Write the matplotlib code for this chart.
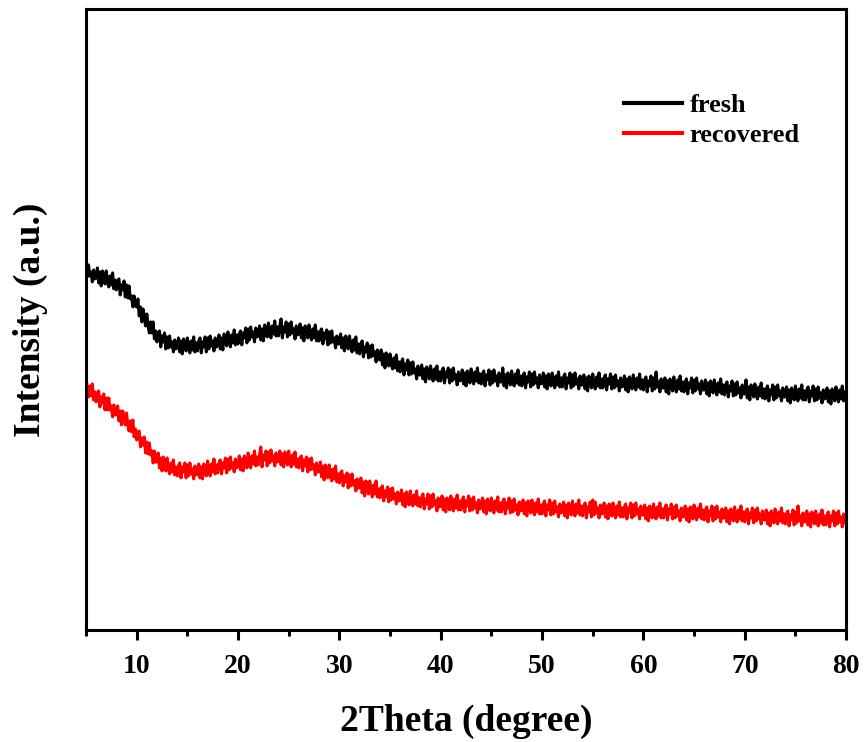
import numpy as np
import matplotlib
matplotlib.use("Agg")
import matplotlib.pyplot as plt

plt.rcParams['font.family'] = ['Liberation Serif', 'DejaVu Serif']
plt.rcParams['font.weight'] = 'bold'

# 2theta grid (0.125 degree step, 5 to 80)
two_theta = np.arange(5, 80.001, 0.125)

# intensity (arbitrary units), one row of 8 per degree
fresh = [
    364, 353, 365, 354, 358, 348, 360, 351,
    352, 362, 347, 358, 344, 359, 353, 346,
    359, 348, 343, 354, 345, 357, 341, 350,
    340, 349, 351, 335, 345, 340, 349, 333,
    345, 332, 344, 331, 334, 323, 334, 324,
    323, 331, 314, 323, 308, 321, 313, 304,
    316, 304, 297, 308, 297, 308, 291, 299,
    288, 297, 299, 283, 294, 288, 297, 281,
    293, 282, 294, 283, 288, 278, 290, 281,
    282, 292, 278, 289, 276, 291, 286, 279,
    292, 282, 277, 289, 280, 293, 278, 287,
    279, 289, 292, 277, 288, 283, 293, 278,
    292, 281, 294, 284, 289, 279, 292, 283,
    285, 295, 281, 292, 280, 296, 291, 284,
    298, 288, 283, 295, 287, 300, 285, 295,
    286, 296, 299, 285, 297, 292, 302, 287,
    301, 290, 303, 293, 298, 288, 302, 293,
    294, 304, 290, 301, 289, 305, 300, 293,
    307, 297, 292, 304, 296, 309, 294, 303,
    294, 304, 311, 292, 303, 298, 308, 293,
    306, 295, 308, 297, 301, 291, 304, 295,
    296, 306, 292, 302, 289, 304, 299, 292,
    305, 295, 290, 301, 292, 305, 289, 298,
    289, 299, 301, 286, 297, 291, 300, 285,
    298, 287, 299, 288, 292, 282, 294, 286,
    286, 296, 282, 292, 279, 294, 288, 281,
    294, 284, 278, 290, 280, 293, 277, 286,
    276, 286, 289, 273, 283, 278, 287, 272,
    284, 273, 285, 274, 278, 268, 280, 271,
    270, 280, 265, 276, 262, 277, 271, 264,
    276, 266, 261, 272, 262, 275, 259, 268,
    258, 268, 271, 255, 266, 260, 270, 255,
    267, 256, 268, 257, 261, 251, 264, 255,
    255, 265, 251, 261, 248, 263, 258, 251,
    264, 254, 249, 261, 251, 264, 249, 258,
    249, 259, 262, 247, 258, 253, 262, 247,
    260, 249, 262, 251, 255, 245, 258, 249,
    250, 260, 246, 257, 244, 259, 254, 247,
    261, 251, 246, 258, 249, 262, 247, 256,
    246, 256, 259, 244, 255, 250, 260, 245,
    258, 247, 260, 249, 254, 244, 257, 248,
    248, 262, 244, 255, 242, 257, 252, 245,
    259, 249, 244, 256, 247, 260, 245, 254,
    244, 254, 257, 242, 253, 248, 258, 243,
    256, 245, 258, 247, 252, 242, 255, 246,
    247, 257, 243, 254, 241, 256, 251, 244,
    257, 247, 242, 254, 245, 258, 243, 252,
    243, 253, 256, 241, 252, 247, 257, 242,
    255, 244, 257, 246, 251, 241, 254, 245,
    245, 255, 241, 252, 239, 254, 249, 242,
    256, 246, 241, 253, 244, 257, 242, 251,
    242, 252, 255, 240, 251, 246, 256, 241,
    253, 242, 255, 244, 249, 239, 252, 243,
    244, 254, 240, 251, 238, 253, 248, 241,
    255, 245, 240, 252, 243, 256, 241, 250,
    240, 250, 253, 238, 249, 244, 254, 239,
    252, 241, 258, 243, 248, 238, 251, 242,
    242, 252, 238, 249, 236, 251, 246, 239,
    253, 243, 238, 250, 241, 254, 239, 248,
    238, 248, 251, 236, 247, 242, 252, 237,
    250, 239, 252, 241, 246, 236, 249, 240,
    240, 250, 236, 247, 234, 249, 244, 237,
    250, 240, 235, 247, 238, 251, 236, 245,
    235, 245, 248, 233, 244, 239, 249, 234,
    246, 235, 248, 237, 242, 232, 245, 236,
    236, 250, 232, 243, 230, 245, 240, 233,
    246, 236, 231, 243, 234, 247, 232, 241,
    231, 241, 244, 229, 240, 235, 245, 230,
    243, 232, 245, 234, 239, 229, 242, 233,
    233, 243, 229, 240, 227, 242, 237, 230,
    244, 234, 229, 241, 232, 245, 230, 239,
    230, 240, 243, 228, 239, 234, 244, 229,
    241, 230, 243, 232, 237, 227, 240, 231,
    232, 242, 228, 239, 226, 241, 236, 229,
    243, 233, 228, 240, 231, 244, 229, 238,
    235,
]

recovered = [
    256, 239, 233, 244, 234, 246, 230, 238,
    228, 237, 239, 223, 233, 227, 236, 220,
    232, 220, 232, 220, 224, 213, 225, 215,
    215, 224, 209, 219, 205, 219, 213, 205,
    217, 205, 199, 209, 198, 210, 193, 201,
    190, 198, 199, 183, 192, 185, 193, 177,
    188, 176, 187, 175, 179, 167, 179, 168,
    168, 177, 162, 172, 159, 173, 167, 159,
    172, 161, 156, 167, 158, 170, 155, 163,
    154, 164, 167, 152, 163, 158, 167, 152,
    165, 154, 167, 156, 161, 151, 164, 155,
    156, 166, 152, 163, 151, 166, 161, 154,
    169, 159, 154, 166, 158, 171, 156, 165,
    157, 167, 170, 156, 167, 162, 172, 157,
    171, 160, 173, 162, 167, 158, 171, 162,
    164, 174, 160, 171, 159, 174, 169, 162,
    177, 167, 162, 174, 166, 179, 164, 173,
    165, 175, 183, 163, 175, 170, 179, 164,
    178, 167, 180, 169, 174, 164, 177, 168,
    169, 179, 165, 176, 163, 178, 172, 165,
    179, 169, 163, 175, 166, 178, 163, 171,
    162, 172, 174, 159, 170, 164, 173, 158,
    171, 160, 172, 161, 165, 155, 167, 158,
    158, 168, 153, 164, 150, 165, 159, 152,
    165, 155, 149, 161, 151, 164, 148, 156,
    147, 157, 159, 144, 154, 148, 157, 142,
    155, 144, 156, 145, 149, 139, 151, 142,
    142, 152, 137, 148, 134, 149, 143, 136,
    149, 139, 133, 145, 136, 149, 133, 141,
    132, 142, 144, 129, 139, 133, 143, 128,
    141, 130, 142, 131, 136, 126, 138, 129,
    130, 140, 125, 136, 123, 138, 132, 125,
    139, 129, 124, 135, 126, 139, 124, 132,
    123, 133, 136, 121, 131, 126, 136, 121,
    134, 123, 136, 125, 129, 119, 132, 123,
    124, 134, 120, 131, 118, 132, 127, 120,
    134, 124, 119, 131, 122, 135, 120, 129,
    120, 130, 133, 118, 129, 124, 134, 119,
    131, 120, 133, 122, 127, 117, 130, 121,
    122, 132, 118, 129, 116, 131, 126, 119,
    132, 122, 117, 129, 120, 133, 118, 127,
    118, 128, 131, 116, 127, 122, 132, 117,
    129, 118, 131, 120, 125, 115, 128, 119,
    120, 130, 116, 127, 114, 129, 124, 117,
    130, 120, 115, 127, 118, 131, 116, 125,
    116, 126, 129, 114, 125, 120, 130, 115,
    127, 116, 129, 118, 123, 113, 126, 117,
    118, 128, 114, 125, 112, 127, 122, 115,
    129, 119, 114, 126, 117, 130, 115, 124,
    114, 124, 127, 112, 123, 118, 128, 113,
    130, 115, 128, 117, 122, 112, 125, 116,
    117, 127, 113, 124, 111, 126, 121, 114,
    127, 117, 112, 124, 115, 128, 113, 122,
    113, 123, 126, 111, 122, 117, 127, 112,
    125, 114, 127, 116, 121, 111, 124, 115,
    115, 125, 111, 122, 109, 124, 119, 112,
    126, 116, 111, 123, 114, 127, 112, 121,
    112, 122, 125, 110, 121, 116, 126, 111,
    123, 112, 125, 114, 119, 109, 122, 113,
    114, 124, 110, 121, 108, 123, 118, 111,
    125, 115, 110, 122, 113, 126, 111, 120,
    110, 120, 123, 108, 119, 114, 124, 109,
    122, 111, 124, 113, 118, 108, 121, 112,
    112, 122, 108, 119, 106, 121, 116, 109,
    123, 113, 108, 120, 111, 124, 109, 118,
    108, 118, 121, 106, 117, 112, 122, 107,
    120, 109, 122, 111, 116, 106, 119, 110,
    110, 120, 106, 117, 104, 119, 114, 107,
    121, 111, 106, 118, 109, 122, 107, 116,
    106, 116, 119, 104, 115, 110, 120, 105,
    118, 107, 124, 109, 114, 104, 117, 108,
    109, 119, 105, 116, 103, 118, 113, 106,
    119, 109, 104, 116, 107, 120, 105, 114,
    105, 115, 118, 103, 114, 109, 119, 104,
    117, 106, 119, 108, 113, 103, 116, 107,
    110,
]

fig = plt.figure(figsize=(8.66, 7.42), dpi=100)
ax = fig.add_axes([0.0993, 0.151, 0.8777, 0.837])

ax.plot(two_theta, fresh, color='black', lw=2.2, label='fresh')
ax.plot(two_theta, recovered, color='red', lw=2.2, label='recovered')

ax.set_xlim(5, 80)
ax.set_ylim(0, 621)
ax.set_yticks([])
ax.set_xticks([10, 20, 30, 40, 50, 60, 70, 80])
ax.set_xticks([5, 15, 25, 35, 45, 55, 65, 75], minor=True)
ax.tick_params(axis='x', which='major', direction='out', length=7, width=2.2,
               labelsize=20, pad=10)
ax.tick_params(axis='x', which='minor', direction='out', length=4, width=2.2)
for s in ax.spines.values():
    s.set_linewidth(2.2)

ax.set_xlabel('2Theta (degree)', fontsize=27, fontweight='bold', labelpad=18)
ax.set_ylabel('Intensity (a.u.)', fontsize=27, fontweight='bold', labelpad=27)

leg = ax.legend(loc='upper left', bbox_to_anchor=(0.676, 0.902), frameon=False,
                fontsize=19, handlelength=2.2, handletextpad=0.3, labelspacing=0.25)
for line in leg.get_lines():
    line.set_linewidth(3)

fig.savefig('out.png', dpi=100)
